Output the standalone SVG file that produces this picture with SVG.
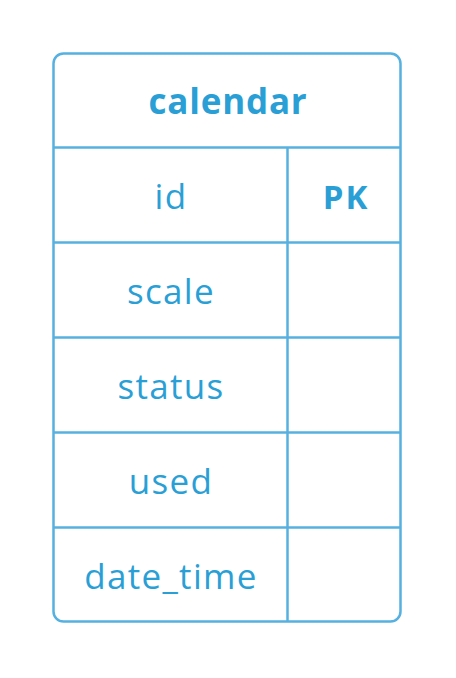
<svg xmlns="http://www.w3.org/2000/svg" width="456" height="678" viewBox="0 0 456 678">
<style>
.ln{stroke:#56b1e0;stroke-width:2.5;fill:none}
.t{font-family:"Open Sans","Noto Sans",sans-serif;font-size:35px;letter-spacing:1.3px;fill:#2a9fd6;text-anchor:middle}
.h{font-weight:bold;font-size:35px;letter-spacing:0.8px}
.pk{font-weight:bold;font-size:33px;letter-spacing:2px}
</style>
<rect width="456" height="678" fill="#ffffff"/>
<g id="table">
<rect class="ln" x="53.5" y="53.5" width="347" height="568" rx="10"/>
<line class="ln" x1="53.5" y1="147.5" x2="400.5" y2="147.5"/>
<line class="ln" x1="53.5" y1="242.5" x2="400.5" y2="242.5"/>
<line class="ln" x1="53.5" y1="337.5" x2="400.5" y2="337.5"/>
<line class="ln" x1="53.5" y1="432.5" x2="400.5" y2="432.5"/>
<line class="ln" x1="53.5" y1="527.5" x2="400.5" y2="527.5"/>
<line class="ln" x1="287.5" y1="147.5" x2="287.5" y2="621.5"/>
</g>
<g id="header"><text class="t h" x="228" y="114">calendar</text></g>
<g id="row-id"><text class="t" x="171" y="209">id</text><text class="t pk" x="346" y="208.5">PK</text></g>
<g id="row-scale"><text class="t" x="171" y="304">scale</text></g>
<g id="row-status"><text class="t" x="171" y="399">status</text></g>
<g id="row-used"><text class="t" x="171" y="494">used</text></g>
<g id="row-date_time"><text class="t" x="171" y="589">date_time</text></g>
</svg>
